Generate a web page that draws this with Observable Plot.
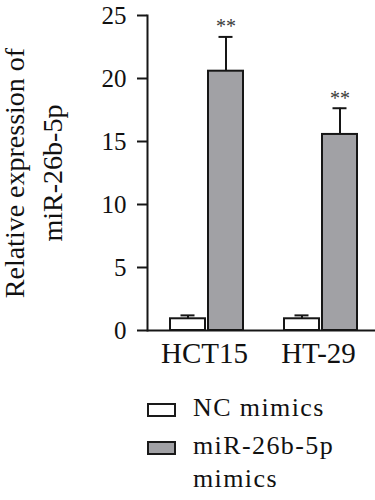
<!DOCTYPE html>
<html><head><meta charset="utf-8">
<script src="https://cdn.jsdelivr.net/npm/d3@7"></script>
<script src="https://cdn.jsdelivr.net/npm/@observablehq/plot@0.6"></script>
<style>
body{margin:0;background:#fff;}
#chart{position:relative;width:375px;height:500px;overflow:hidden;}
#chart svg{display:block;}
.legend{position:absolute;left:147px;top:391px;font-family:"Liberation Serif","Times New Roman",serif;font-size:26px;letter-spacing:1.4px;line-height:33px;color:#111;}
.item{display:flex;align-items:flex-start;margin-bottom:5px;}
.sw{width:29px;height:14px;border:2px solid #1a1a1a;box-sizing:border-box;margin-top:12px;margin-right:17px;flex:none;}
.txt{width:182px;}
</style></head><body><div id="chart"></div>
<script>
const groups = ["HCT15", "HT-29"];
const series = ["NC mimics", "miR-26b-5p mimics"];
const ncMeans = [0.93, 0.93];
const ncErrors = [0.27, 0.27];
const mirMeans = [20.58, 15.56];
const mirErrors = [2.72, 2.08];
const significance = ["**", "**"];
const yTicks = [0, 5, 10, 15, 20, 25];
const seriesColors = ["#ffffff", "#a1a1a5"];
const yTitle = "Relative expression of\nmiR-26b-5p";

const data = [];
groups.forEach((g, i) => {
  data.push({group: g, series: series[0], mean: ncMeans[i], err: ncErrors[i], sig: ""});
  data.push({group: g, series: series[1], mean: mirMeans[i], err: mirErrors[i], sig: significance[i]});
});

const ink = "#161616";
const lw = 2;
const plot = Plot.plot({
  width: 375, height: 370,
  marginTop: 15, marginBottom: 40, marginLeft: 146, marginRight: 0,
  style: {fontFamily: "'Liberation Serif', serif", background: "#fff", color: "#111"},
  fx: {domain: groups, padding: 0, label: null},
  x: {domain: series, paddingInner: 0.077, paddingOuter: 0.506, align: 0.557, axis: null},
  y: {domain: [0, 25], axis: null},
  color: {domain: series, range: seriesColors},
  marks: [
    Plot.barY(data, {fx: "group", x: "series", y: "mean", fill: "series", stroke: ink, strokeWidth: lw}),
    Plot.ruleX(data, {fx: "group", x: "series", y1: "mean", y2: d => d.mean + d.err, stroke: ink, strokeWidth: lw}),
    Plot.tickY(data, {fx: "group", x: "series", y: d => d.mean + d.err, stroke: ink, strokeWidth: lw, insetLeft: 10.5, insetRight: 10.5}),
    Plot.text(data, {fx: "group", x: "series", y: d => d.mean + d.err, text: "sig", fontSize: 20, dy: -10, fill: "#3a3a3a"}),
    Plot.ruleY([0], {stroke: ink, strokeWidth: lw}),
    Plot.frame({anchor: "left", facetAnchor: "left", stroke: ink, strokeWidth: lw}),
    Plot.axisY({ticks: yTicks, tickSize: 10, tickPadding: 11, fontSize: 25, stroke: ink, strokeWidth: lw, label: null}),
    Plot.axisFx({anchor: "bottom", tickSize: 0, tickPadding: 12, fontSize: 29, label: null}),
    Plot.text([{group: groups[0], label: yTitle}], {fx: "group", frameAnchor: "left", textAnchor: "middle", text: "label", rotate: -90, fontSize: 28, lineHeight: 1.36, lineAnchor: "top", dx: -151})
  ]
});

const chart = document.getElementById("chart");
chart.appendChild(plot);
const legend = document.createElement("div");
legend.className = "legend";
series.forEach((s, i) => {
  const item = document.createElement("div");
  item.className = "item";
  const sw = document.createElement("div");
  sw.className = "sw";
  sw.style.background = seriesColors[i];
  const t = document.createElement("div");
  t.className = "txt";
  t.textContent = s;
  item.appendChild(sw); item.appendChild(t);
  legend.appendChild(item);
});
chart.appendChild(legend);
</script></body></html>
